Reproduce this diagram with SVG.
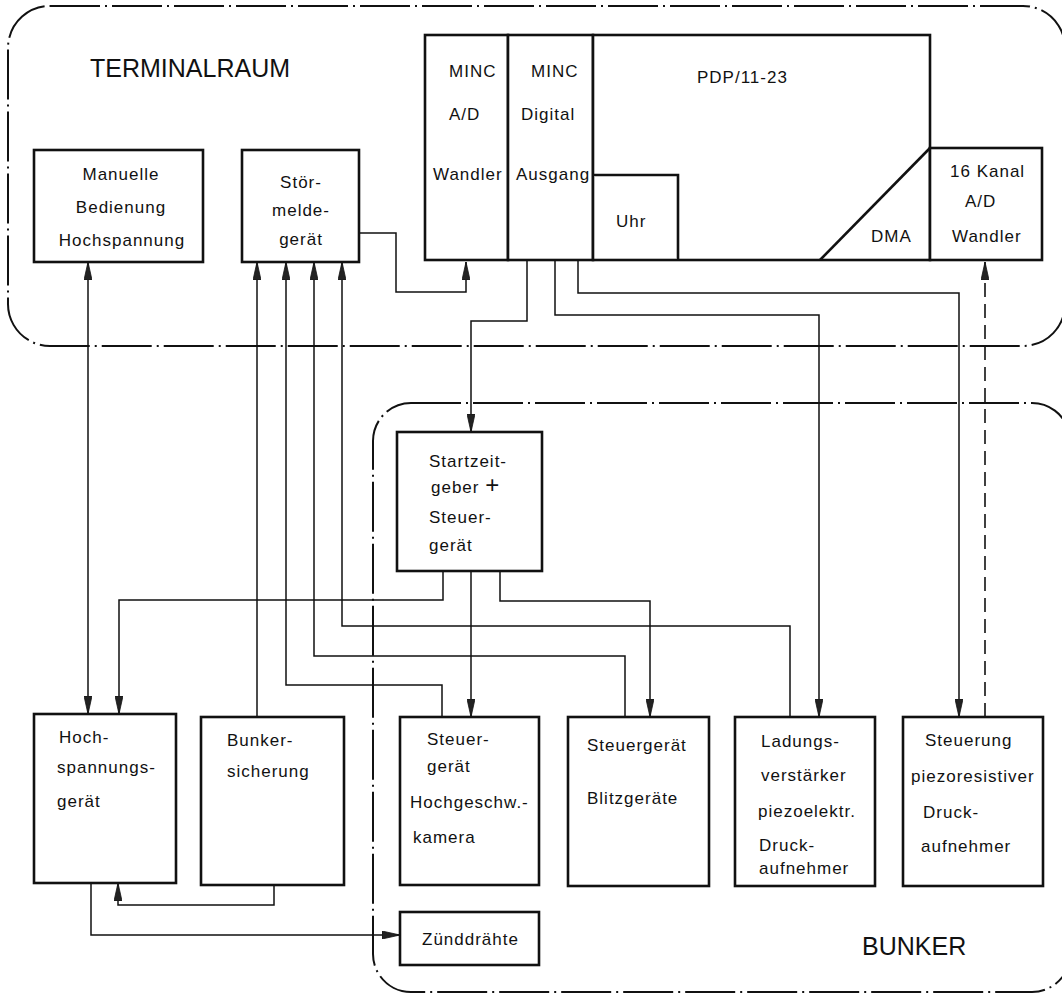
<svg xmlns="http://www.w3.org/2000/svg" width="1062" height="994" viewBox="0 0 1062 994">
<style>
.bound{fill:none;stroke:#111;stroke-width:2;stroke-dasharray:50 5 2 5}
.box{fill:#fff;stroke:#111;stroke-width:2.6}
.ln{fill:none;stroke:#111;stroke-width:1.5}
.dash{fill:none;stroke:#111;stroke-width:1.6;stroke-dasharray:14 7}
.arr{marker-end:url(#ah)}
.t{font-family:"Liberation Sans",Arial,sans-serif;font-size:17px;letter-spacing:1px;fill:#111}
.c{text-anchor:middle}
.big{font-family:"Liberation Sans",Arial,sans-serif;font-size:25px;fill:#111}
</style>
<defs>
<marker id="ah" markerUnits="userSpaceOnUse" markerWidth="18" markerHeight="8" viewBox="0 0 18 8" refX="18" refY="4" orient="auto-start-reverse">
<path d="M0,0 L18,4 L0,8 Z" fill="#222" stroke="#111" stroke-width="0.8"/>
</marker>
</defs>
<rect fill="#fff" x="0" y="0" width="1062" height="994"/>

<g id="terminalraum">
<rect class="bound" x="8" y="6" width="1057" height="340" rx="42"/>
<text class="big" x="90" y="77">TERMINALRAUM</text>
</g>
<g id="bunker">
<rect class="bound" x="373" y="403" width="697" height="589" rx="38"/>
<text class="big" x="862" y="955">BUNKER</text>
</g>

<g id="connectors">
<path class="ln" d="M88,262 V714" marker-start="url(#ah)" marker-end="url(#ah)"/>
<path class="ln arr" d="M359,233 H396 V292 H466 V262"/>
<path class="ln arr" d="M527,260 V321 H471 V432"/>
<path class="ln arr" d="M555,260 V315 H819 V717"/>
<path class="ln arr" d="M578,260 V293 H959 V717"/>
<path class="dash arr" d="M985,717 V262"/>
<path class="ln arr" d="M443,571 V600 H119 V714"/>
<path class="ln arr" d="M471,571 V717"/>
<path class="ln arr" d="M500,571 V601 H650 V717"/>
<path class="ln arr" d="M257,717 V262"/>
<path class="ln arr" d="M442,717 V685 H286 V262"/>
<path class="ln arr" d="M625,717 V656 H314 V262"/>
<path class="ln arr" d="M790,717 V626 H342 V262"/>
<path class="ln arr" d="M274,885 V905 H118 V883"/>
<path class="ln arr" d="M91,883 V935 H400"/>
</g>

<g id="manuelle_bedienung">
<rect class="box" x="34" y="150" width="169" height="112"/>
<text class="t c" x="121" y="180">Manuelle</text>
<text class="t c" x="121" y="213">Bedienung</text>
<text class="t c" x="122" y="246">Hochspannung</text>
</g>
<g id="stoermeldegeraet">
<rect class="box" x="242" y="150" width="117" height="112"/>
<text class="t c" x="301" y="188">Stör-</text>
<text class="t c" x="301" y="216">melde-</text>
<text class="t c" x="301" y="245">gerät</text>
</g>
<g id="minc_ad">
<rect class="box" x="425" y="35" width="83" height="225"/>
<text class="t" x="449" y="77">MINC</text>
<text class="t" x="449" y="120">A/D</text>
<text class="t" x="433" y="180">Wandler</text>
</g>
<g id="minc_digital">
<rect class="box" x="508" y="35" width="85" height="225"/>
<text class="t" x="531" y="77">MINC</text>
<text class="t" x="521" y="120">Digital</text>
<text class="t" x="516" y="180">Ausgang</text>
</g>
<g id="pdp">
<rect class="box" x="593" y="35" width="337" height="225"/>
<text class="t" x="697" y="83">PDP/11-23</text>
</g>
<g id="uhr">
<path class="box" d="M593,175 H678 V260"/>
<text class="t" x="616" y="227">Uhr</text>
</g>
<g id="dma">
<path class="box" d="M820,260 L930,148"/>
<text class="t" x="871" y="242">DMA</text>
</g>
<g id="kanal16">
<rect class="box" x="930" y="148" width="112" height="112"/>
<text class="t" x="950" y="177">16 Kanal</text>
<text class="t" x="965" y="207">A/D</text>
<text class="t" x="952" y="242">Wandler</text>
</g>
<g id="startzeitgeber">
<rect class="box" x="397" y="432" width="145" height="139"/>
<text class="t" x="429" y="467">Startzeit-</text>
<text class="t" x="431" y="493">geber <tspan font-size="24px">+</tspan></text>
<text class="t" x="429" y="523">Steuer-</text>
<text class="t" x="429" y="551">gerät</text>
</g>
<g id="hochspannungsgeraet">
<rect class="box" x="34" y="714" width="142" height="169"/>
<text class="t" x="59" y="743">Hoch-</text>
<text class="t" x="57" y="773">spannungs-</text>
<text class="t" x="57" y="807">gerät</text>
</g>
<g id="bunkersicherung">
<rect class="box" x="201" y="717" width="143" height="168"/>
<text class="t" x="227" y="746">Bunker-</text>
<text class="t" x="227" y="777">sicherung</text>
</g>
<g id="steuergeraet_kamera">
<rect class="box" x="400" y="717" width="139" height="168"/>
<text class="t" x="427" y="745">Steuer-</text>
<text class="t" x="427" y="772">gerät</text>
<text class="t" x="410" y="808">Hochgeschw.-</text>
<text class="t" x="413" y="843">kamera</text>
</g>
<g id="steuergeraet_blitz">
<rect class="box" x="568" y="717" width="141" height="169"/>
<text class="t" x="587" y="751">Steuergerät</text>
<text class="t" x="587" y="804">Blitzgeräte</text>
</g>
<g id="ladungsverstaerker">
<rect class="box" x="735" y="717" width="140" height="169"/>
<text class="t" x="761" y="747">Ladungs-</text>
<text class="t" x="761" y="781">verstärker</text>
<text class="t" x="758" y="817">piezoelektr.</text>
<text class="t" x="759" y="851">Druck-</text>
<text class="t" x="759" y="874">aufnehmer</text>
</g>
<g id="steuerung_piezo">
<rect class="box" x="903" y="717" width="140" height="169"/>
<text class="t" x="925" y="746">Steuerung</text>
<text class="t" x="911" y="782">piezoresistiver</text>
<text class="t" x="923" y="818">Druck-</text>
<text class="t" x="921" y="852">aufnehmer</text>
</g>
<g id="zuenddraehte">
<rect class="box" x="400" y="912" width="139" height="53"/>
<text class="t" x="422" y="945">Zünddrähte</text>
</g>
</svg>
